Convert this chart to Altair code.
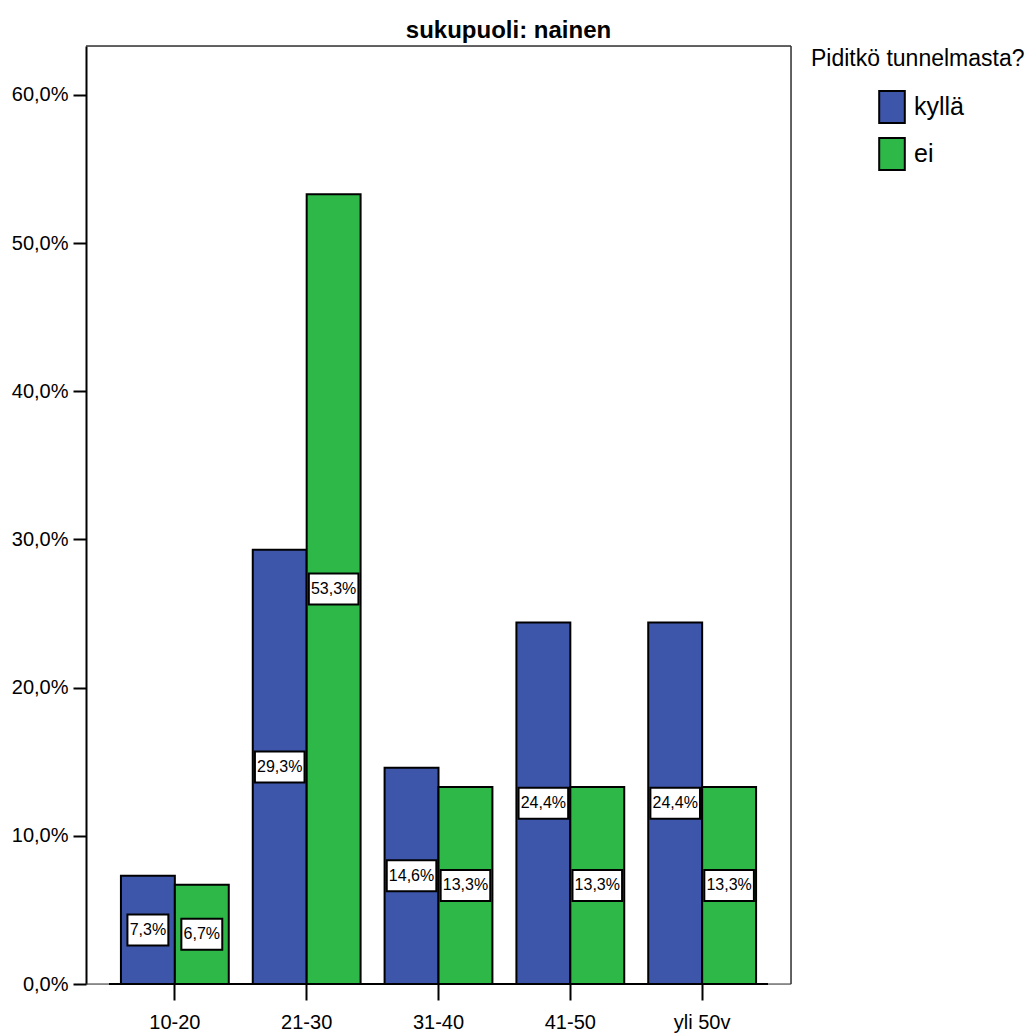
import altair as alt
import pandas as pd

# Age groups and share of respondents (%) by answer
age_groups = ["10-20", "21-30", "31-40", "41-50", "yli 50v"]
answers = ["kyllä", "ei"]
kylla_pct = [7.3, 29.3, 14.6, 24.4, 24.4]
ei_pct = [6.7, 53.3, 13.3, 13.3, 13.3]

rows = []
for i, age in enumerate(age_groups):
    rows.append({"ika": age, "vastaus": "kyllä", "pct": kylla_pct[i]})
    rows.append({"ika": age, "vastaus": "ei", "pct": ei_pct[i]})
df = pd.DataFrame(rows)

FONT = "Liberation Sans, Arial, sans-serif"
BLUE = "#3E56AA"
GREEN = "#2EB848"
FRAME = "#333333"
W, H = 705, 938

x_enc = alt.X(
    "ika:N",
    sort=age_groups,
    title=None,
    scale=alt.Scale(paddingInner=0.182, paddingOuter=0.265),
    axis=alt.Axis(
        domain=False, tickSize=16, tickWidth=2, tickColor="black",
        labelFont=FONT, labelFontSize=20, labelColor="black",
        labelPadding=12, labelAngle=0,
    ),
)
xoff = alt.XOffset("vastaus:N", sort=answers,
                   scale=alt.Scale(paddingInner=0, paddingOuter=0))

base = alt.Chart(df)

# Thin frame around the plot area (top, right, bottom)
one = alt.InlineData(values=[{"k": 1}])
frame_top = alt.Chart(one).mark_rule(color=FRAME, strokeWidth=1.5).encode(
    x=alt.value(0), x2=alt.value(W), y=alt.value(0)
)
frame_right = alt.Chart(one).mark_rule(color=FRAME, strokeWidth=1.5).encode(
    x=alt.value(W), y=alt.value(0), y2=alt.value(H)
)
frame_bottom = alt.Chart(one).mark_rule(color=FRAME, strokeWidth=1).encode(
    x=alt.value(0), x2=alt.value(W), y=alt.value(H)
)

bars = base.mark_bar(stroke="black", strokeWidth=2).encode(
    x=x_enc,
    xOffset=xoff,
    y=alt.Y(
        "pct:Q",
        title=None,
        scale=alt.Scale(domain=[0, 63.3], nice=False, zero=True),
        axis=alt.Axis(
            values=[0, 10, 20, 30, 40, 50, 60],
            labelExpr="replace(format(datum.value, '.1f'), '.', ',') + '%'",
            grid=False, domainColor="black", domainWidth=2,
            tickSize=13, tickWidth=2, tickColor="black",
            labelFont=FONT, labelFontSize=20, labelColor="black",
            labelPadding=5,
        ),
    ),
    color=alt.Color(
        "vastaus:N",
        sort=answers,
        scale=alt.Scale(domain=answers, range=[BLUE, GREEN]),
        legend=alt.Legend(
            title="Piditkö tunnelmasta?",
            orient="none", legendX=725, legendY=2,
            titleFont=FONT, titleFontSize=23, titleFontWeight="normal",
            titleColor="black", titlePadding=19, titleLimit=400,
            labelFont=FONT, labelFontSize=25, labelColor="black",
            labelOffset=5, labelLimit=300,
            symbolType="M-0.8,-1L0.8,-1L0.8,1L-0.8,1Z",
            symbolSize=1024, symbolStrokeColor="black", symbolStrokeWidth=2,
            symbolOffset=64, rowPadding=7,
        ),
    ),
)

labelled = base.transform_calculate(
    label="replace(format(datum.pct, '.1f'), '.', ',') + '%'",
    mid="datum.pct / 2",
).transform_calculate(
    box="length(datum.label) > 4 ? 'M-1.6,-1L1.6,-1L1.6,1L-1.6,1Z' : 'M-1.32,-1L1.32,-1L1.32,1L-1.32,1Z'"
)

boxes = labelled.mark_point(
    fill="white", stroke="black", strokeWidth=2, size=961,
    opacity=1, fillOpacity=1,
).encode(
    x=alt.X("ika:N", sort=age_groups),
    xOffset=xoff,
    y=alt.Y("mid:Q"),
    shape=alt.Shape("box:N", scale=None, legend=None),
)

texts = labelled.mark_text(
    font=FONT, fontSize=16, color="black", align="center", baseline="middle",
).encode(
    x=alt.X("ika:N", sort=age_groups),
    xOffset=xoff,
    y=alt.Y("mid:Q"),
    text="label:N",
)

x_line = alt.Chart(one).mark_rule(color="black", strokeWidth=2).encode(
    x=alt.value(23), x2=alt.value(682), y=alt.value(H)
)

chart = alt.layer(
    frame_top, frame_right, frame_bottom, bars, boxes, texts, x_line
).properties(
    width=W,
    height=H,
    padding={"left": 11, "top": 19, "right": 5, "bottom": 5},
    title=alt.TitleParams(
        "sukupuoli: nainen", font=FONT, fontSize=24,
        fontWeight="bold", color="black", anchor="middle", dx=70, offset=2,
    ),
).configure_view(
    fill="#F0F0F0", stroke=None,
).configure(background="white")

chart.save("out.html", embed_options={"renderer": "svg", "actions": False})
